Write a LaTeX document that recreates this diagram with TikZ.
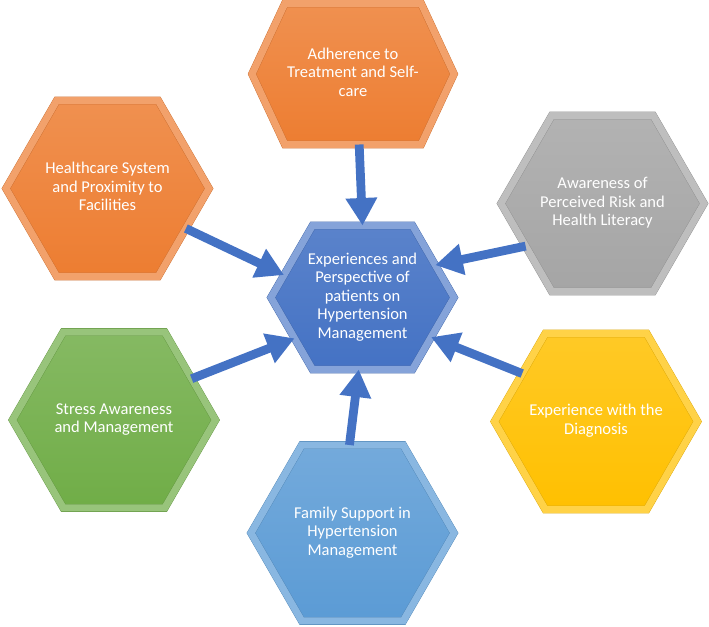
\documentclass[tikz,border=0pt]{standalone}
\usepackage{fontspec}
\setmainfont{Carlito}
\usetikzlibrary{shapes.symbols,arrows.meta}

\definecolor{hxorange}{HTML}{ED7D31}
\definecolor{hxgray}{HTML}{A5A5A5}
\definecolor{hxgold}{HTML}{FFC000}
\definecolor{hxgreen}{HTML}{70AD47}
\definecolor{hxsky}{HTML}{5B9BD5}
\definecolor{hxblue}{HTML}{4472C4}

% text lines of a hexagon, kept out of the shape size
\newcommand{\hexlines}[1]{\makebox[0pt]{\begin{tabular}{@{}c@{}}#1\end{tabular}}}

\begin{document}
\begin{tikzpicture}[x=0.02cm,y=-0.02cm]
  \tikzstyle{hexa}=[signal,signal to=east and west,signal pointer angle=120,
    inner sep=0pt,outer sep=0pt,minimum width=4.06cm,minimum height=3.52cm,
    line width=0.2pt,double distance=0.14cm,text=white,
    font=\fontsize{9.4}{10.5}\selectfont]
  \tikzstyle{flow}=[line width=5pt,draw=hxblue,-{Triangle[width=0.6cm,length=0.55cm]}]

  \useasboundingbox (0,0) rectangle (709,626);

  \foreach \name/\x/\y/\col/\txt in {care/107.5/188.5/hxorange/{Healthcare System\\and Proximity to\\Facilities},
      risk/602.5/203.5/hxgray/{Awareness of\\Perceived Risk and\\Health Literacy},
      stress/114/420/hxgreen/{Stress Awareness\\and Management},
      diag/596/421.5/hxgold/{Experience with the\\Diagnosis},
      family/352.5/533/hxsky/{Family Support in\\Hypertension\\Management}}
    \node[hexa,draw=\col!85!black,double=\col!72!white,top color=\col!85!white,bottom color=\col]
      (\name) at (\x,\y) {\hexlines{\txt}};

  \node[hexa,signal pointer angle=130,minimum width=4.04cm,minimum height=2.82cm,
    draw=hxorange!85!black,double=hxorange!72!white,top color=hxorange!85!white,bottom color=hxorange]
    (adh) at (353,74) {\hexlines{Adherence to\\Treatment and Self-\\care}};

  \node[hexa,minimum width=3.66cm,minimum height=2.88cm,
    draw=hxblue!85!black,double=hxblue!65!white,top color=hxblue!88!white,bottom color=hxblue]
    (core) at (362.5,297.5) {\hexlines{Experiences and\\Perspective of\\patients on\\Hypertension\\Management}};

  \foreach \from/\fa/\ta in {care/-27/164, stress/28/-149, risk/209/24, diag/147/-30, family/92/-93, adh/-85/90}
    { \draw[flow] (\from.\fa) -- (core.\ta); }

\end{tikzpicture}
\end{document}
